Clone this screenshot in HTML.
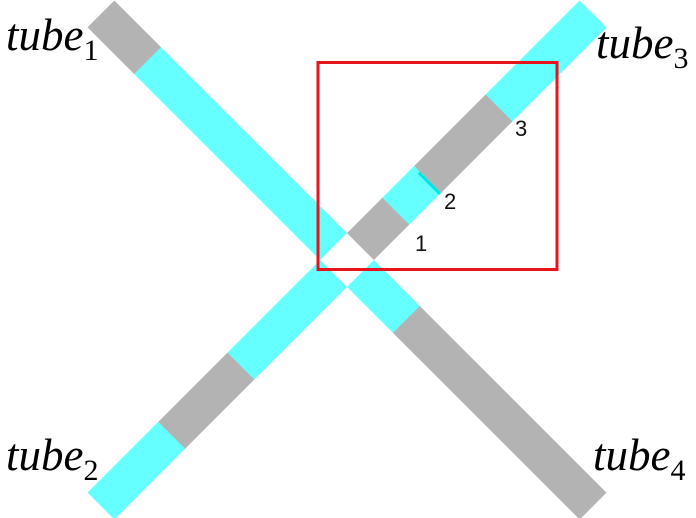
<!DOCTYPE html>
<html><head><meta charset="utf-8"><style>
html,body{margin:0;padding:0;background:#fff;width:696px;height:518px;overflow:hidden}
svg{display:block}
.lbl{font-family:"Liberation Serif",serif;font-style:italic;font-size:45px;fill:#000}
.sub{font-style:normal;font-size:30px}
.num{font-family:"Liberation Sans",sans-serif;font-size:22px;fill:#111}
</style></head><body>
<svg id="chart" width="696" height="518" viewBox="0 0 696 518">
<g id="tubes"></g>
<rect x="318" y="62.5" width="239" height="207" fill="none" stroke="#e8141b" stroke-width="3"/>
<text class="num" x="415" y="251">1</text>
<text class="num" x="444" y="209">2</text>
<text class="num" x="515" y="136">3</text>
<text class="lbl" x="6" y="50">tube<tspan class="sub" dy="10">1</tspan></text>
<text class="lbl" x="596" y="58">tube<tspan class="sub" dy="10">3</tspan></text>
<text class="lbl" x="6" y="470">tube<tspan class="sub" dy="10">2</tspan></text>
<text class="lbl" x="593" y="470">tube<tspan class="sub" dy="10">4</tspan></text>
</svg>
<script>
const tubeNames = ["tube1","tube2","tube3","tube4"];
const tubeAngles = [-135, 135, -45, 45];
const tubeBreaks = [[19,282,348],[19,150,248,348],[19,69,114,215,348],[19,84,348]];
const tubeColors = [["cyan","gray"],["cyan","gray","cyan"],["gray","cyan","gray","cyan"],["cyan","gray"]];
const center = [347,260], halfW = 19;
const fills = {cyan:"#66ffff", gray:"#b3b3b3"};
const NS = "http://www.w3.org/2000/svg";
const root = document.getElementById("tubes");
tubeNames.forEach((n,i)=>{
  const g = document.createElementNS(NS,"g");
  
  
  g.setAttribute("transform",`translate(${center[0]},${center[1]}) rotate(${tubeAngles[i]})`);
  const b = tubeBreaks[i];
  for(let k=0;k<b.length-1;k++){
    const r = document.createElementNS(NS,"rect");
    
    
    r.setAttribute("x",b[k]); r.setAttribute("width",b[k+1]-b[k]+(k<b.length-2?0.6:0));
    r.setAttribute("y",-halfW); r.setAttribute("height",2*halfW);
    r.setAttribute("fill",fills[tubeColors[i][k]]);
    g.appendChild(r);
  }
  if(n==="tube3"){
    const l = document.createElementNS(NS,"rect");
    
    
    l.setAttribute("x",b[2]-3); l.setAttribute("width",3);
    l.setAttribute("y",-halfW+8); l.setAttribute("height",2*halfW-8);
    l.setAttribute("fill","#00e6e6");
    g.appendChild(l);
  }
  root.appendChild(g);
});
</script>
</body></html>
